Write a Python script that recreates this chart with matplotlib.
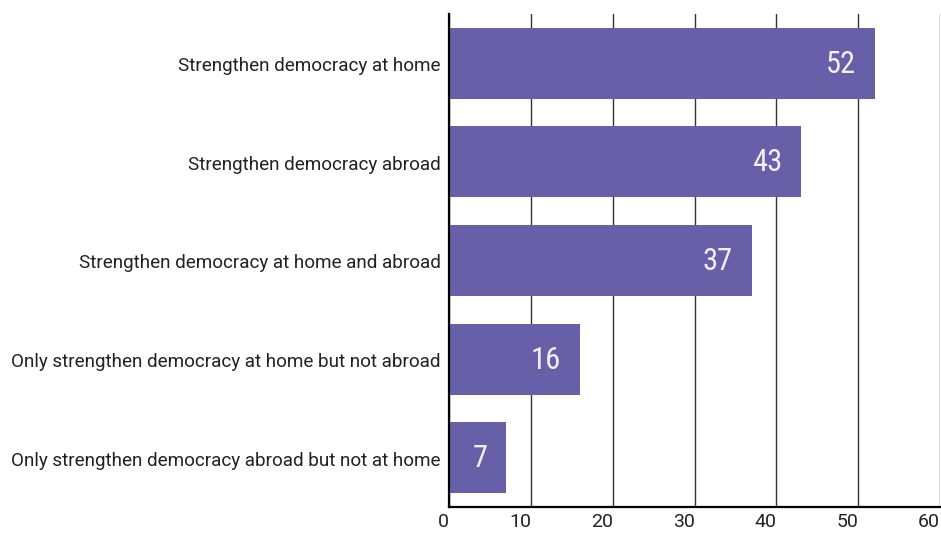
import matplotlib
matplotlib.use("Agg")
import matplotlib.pyplot as plt
from matplotlib.transforms import ScaledTranslation

categories = [
    "Strengthen democracy at home",
    "Strengthen democracy abroad",
    "Strengthen democracy at home and abroad",
    "Only strengthen democracy at home but not abroad",
    "Only strengthen democracy abroad but not at home",
]
values = [52, 43, 37, 16, 7]
xticks = [0, 10, 20, 30, 40, 50, 60]

plt.rcParams['font.family'] = ['Roboto', 'DejaVu Sans']

fig = plt.figure(figsize=(9.41, 5.33), dpi=100)
ax = fig.add_axes([449 / 941, 26 / 533, 491 / 941, 493 / 533])

pos = list(range(len(categories)))
ax.barh(pos, values, height=0.72, color="#6760a8", zorder=2)

for y, v in zip(pos, values):
    ax.annotate(str(v), xy=(v, y), xytext=(-19, -1), textcoords="offset pixels",
                ha="right", va="center", color="#f0f0f0", fontsize=22,
                family=["Roboto Condensed", "Roboto", "DejaVu Sans"], zorder=3)

ax.set_ylim(len(categories) - 0.5, -0.5)
ax.set_xlim(0, 60)
ax.set_yticks(pos)
ax.set_yticklabels(categories, fontsize=13.6, color="#222222", va="center")
ax.set_xticks(xticks)
ax.set_xticklabels([str(t) for t in xticks], fontsize=14, color="#222222", ha="right")
ax.tick_params(axis="both", length=0)
ax.tick_params(axis="y", pad=6)
ax.tick_params(axis="x", pad=4)

# category labels sit a little below the bar centres in the original
shift = ScaledTranslation(0, -3 / 100, fig.dpi_scale_trans)
for lab in ax.get_yticklabels():
    lab.set_transform(lab.get_transform() + shift)

ax.grid(axis="x", color="#333333", linewidth=1, zorder=1)
for s in ["top", "right"]:
    ax.spines[s].set_visible(False)
ax.spines["left"].set_linewidth(1.6)
ax.spines["bottom"].set_linewidth(1.6)
ax.spines["left"].set_zorder(4)

fig.savefig("out.png", dpi=100)
